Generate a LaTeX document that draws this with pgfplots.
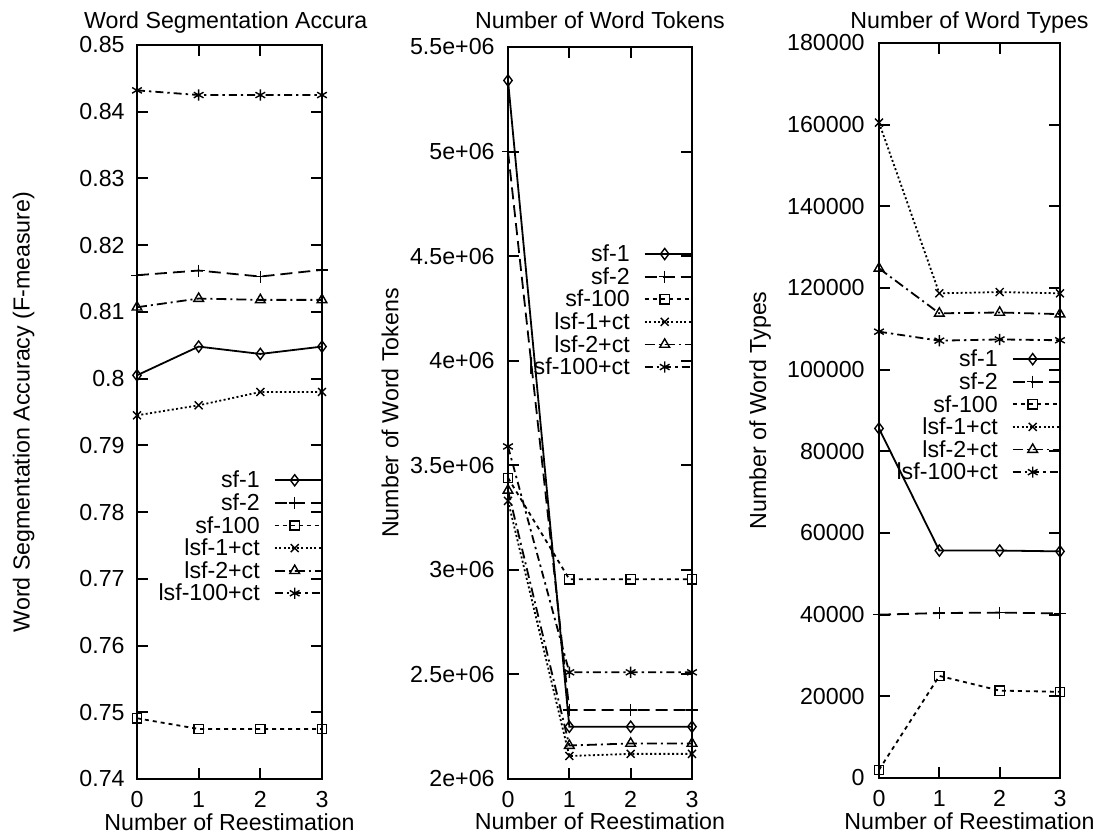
\documentclass[border=0pt]{standalone}
\usepackage{fontspec}
\setmainfont{Liberation Sans}
\usepackage{pgfplots}
\pgfplotsset{compat=1.18}

\def\ff{\fontsize{11.6}{13.9}\selectfont}

% gnuplot-like monochrome line types
\pgfplotsset{
  sfa/.style={black, line width=0.9pt, solid, mark=diamond, mark size=2.8pt, mark options={solid, line width=0.7pt}},
  sfb/.style={black, line width=0.9pt, dash pattern=on 6pt off 3pt, mark=+, mark size=3pt, mark options={solid, line width=0.7pt}},
  sfc/.style={black, line width=0.9pt, dash pattern=on 2pt off 2pt, mark=square, mark size=2.3pt, mark options={solid, line width=0.7pt}},
  lsfa/.style={black, line width=0.9pt, dash pattern=on 1pt off 1.2pt, mark=x, mark size=2.8pt, mark options={solid, line width=0.7pt}},
  lsfb/.style={black, line width=0.9pt, dash pattern=on 5pt off 2pt on 1pt off 2pt, mark=triangle, mark size=2.8pt, mark options={solid, line width=0.7pt}},
  lsfc/.style={black, line width=0.9pt, dash pattern=on 4pt off 2pt on 1.2pt off 2pt, mark=asterisk, mark size=2.8pt, mark options={solid, line width=0.7pt}},
  gp/.style={
    scale only axis, anchor=south west, clip=false,
    xmin=0, xmax=3, xtick={0,1,2,3}, xticklabels={0,1,2,3},
    axis line style={line width=1.2pt}, tick style={line width=1pt, black},
    tick align=inside, major tick length=5.5pt,
    xtick pos=both, ytick pos=both,
    tick label style={font=\ff},
    xticklabel style={anchor=base, yshift=-14.5pt},
    label style={font=\ff}, title style={font=\ff, yshift=-6pt},
    xlabel={Number of Reestimation},
    xlabel style={at={(axis description cs:0.5,-0.0695)}, anchor=base},
    scaled y ticks=false,
    legend plot pos=right, legend cell align=right,
    legend image code/.code={\draw[mark repeat=2, mark phase=2] plot coordinates {(0pt,0pt) (10pt,0pt) (23pt,0pt)};},
    legend style={draw=none, fill=none, inner sep=0pt, font=\ff, anchor=east,
      nodes={inner ysep=1pt, text height=8.5pt, text depth=0.8pt},
      /tikz/every odd column/.append style={column sep=5pt}},
  },
}

\begin{document}
\begin{tikzpicture}
\useasboundingbox (0,0) rectangle (547pt,417.5pt);

\begin{axis}[gp, at={(68.5pt,28pt)}, width=92.5pt, height=367pt,
  ymin=0.74, ymax=0.85,
  ytick={0.74,0.75,0.76,0.77,0.78,0.79,0.80,0.81,0.82,0.83,0.84,0.85},
  yticklabels={0.74,0.75,0.76,0.77,0.78,0.79,0.8,0.81,0.82,0.83,0.84,0.85},
  yticklabel style={inner xsep=0pt, xshift=-6pt},
  title={Word Segmentation Accura},
  title style={at={(axis description cs:-0.324,1.0228)}, anchor=base west},
  ylabel={Word Segmentation Accuracy (F-measure)},
  ylabel style={at={(axis description cs:-0.6135,0.5)}, anchor=center},
  legend style={at={(axis description cs:1,0.33)}}]
\addplot[sfa] coordinates {(0,0.8005) (1,0.8048) (2,0.8037) (3,0.8048)};
\addplot[sfb] coordinates {(0,0.8155) (1,0.8162) (2,0.8153) (3,0.8163)};
\addplot[sfc] coordinates {(0,0.7491) (1,0.7475) (2,0.7475) (3,0.7475)};
\addplot[lsfa] coordinates {(0,0.7945) (1,0.7960) (2,0.7980) (3,0.7980)};
\addplot[lsfb] coordinates {(0,0.8107) (1,0.8120) (2,0.8118) (3,0.8118)};
\addplot[lsfc] coordinates {(0,0.8432) (1,0.8425) (2,0.8425) (3,0.8425)};
\legend{sf-1, sf-2, sf-100, lsf-1+ct, lsf-2+ct, lsf-100+ct}
\end{axis}

\begin{axis}[gp, at={(254pt,28pt)}, width=92pt, height=366pt,
  ymin=2e6, ymax=5.5e6,
  ytick={2e6,2.5e6,3e6,3.5e6,4e6,4.5e6,5e6,5.5e6},
  yticklabels={2e+06,2.5e+06,3e+06,3.5e+06,4e+06,4.5e+06,5e+06,5.5e+06},
  yticklabel style={inner xsep=0pt, xshift=-6.5pt},
  title={Number of Word Tokens},
  title style={at={(axis description cs:0.5,1.0246)}, anchor=base},
  ylabel={Number of Word Tokens},
  ylabel style={at={(axis description cs:-0.641,0.5)}, anchor=center},
  legend style={at={(axis description cs:1,0.64)}}]
\addplot[sfa] coordinates {(0,5.34e6) (1,2.25e6) (2,2.25e6) (3,2.25e6)};
\addplot[sfb] coordinates {(0,5.0e6) (1,2.33e6) (2,2.33e6) (3,2.33e6)};
\addplot[sfc] coordinates {(0,3.44e6) (1,2.955e6) (2,2.955e6) (3,2.955e6)};
\addplot[lsfa] coordinates {(0,3.33e6) (1,2.11e6) (2,2.12e6) (3,2.12e6)};
\addplot[lsfb] coordinates {(0,3.38e6) (1,2.16e6) (2,2.17e6) (3,2.17e6)};
\addplot[lsfc] coordinates {(0,3.59e6) (1,2.51e6) (2,2.51e6) (3,2.51e6)};
\legend{sf-1, sf-2, sf-100, lsf-1+ct, lsf-2+ct, lsf-100+ct}
\end{axis}

\begin{axis}[gp, at={(439.5pt,28.5pt)}, width=90.5pt, height=367.5pt,
  ymin=0, ymax=180000,
  ytick={0,20000,40000,60000,80000,100000,120000,140000,160000,180000},
  yticklabels={0,20000,40000,60000,80000,100000,120000,140000,160000,180000},
  yticklabel style={inner xsep=0pt, xshift=-7pt},
  title={Number of Word Types},
  title style={at={(axis description cs:0.5,1.020)}, anchor=base},
  ylabel={Number of Word Types},
  ylabel style={at={(axis description cs:-0.657,0.5)}, anchor=center},
  legend style={at={(axis description cs:1,0.493)}}]
\addplot[sfa] coordinates {(0,85600) (1,55700) (2,55700) (3,55500)};
\addplot[sfb] coordinates {(0,40000) (1,40400) (2,40500) (3,40300)};
\addplot[sfc] coordinates {(0,2000) (1,25000) (2,21400) (3,21100)};
\addplot[lsfa] coordinates {(0,160500) (1,118700) (2,119000) (3,118700)};
\addplot[lsfb] coordinates {(0,124800) (1,113800) (2,114000) (3,113600)};
\addplot[lsfc] coordinates {(0,109300) (1,107100) (2,107400) (3,107200)};
\legend{sf-1, sf-2, sf-100, lsf-1+ct, lsf-2+ct, lsf-100+ct}
\end{axis}
\end{tikzpicture}
\end{document}
